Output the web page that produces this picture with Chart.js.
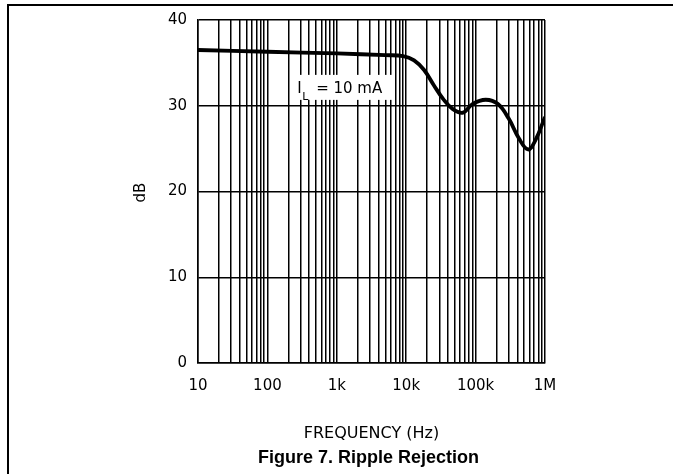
<!DOCTYPE html>
<html>
<head>
<meta charset="utf-8">
<script src="https://cdn.jsdelivr.net/npm/chart.js@4.4.0/dist/chart.umd.min.js"></script>
<style>
  html, body { margin: 0; padding: 0; background: #fff; }
  #wrap { position: relative; width: 676px; height: 474px; }
</style>
</head>
<body>
<div id="wrap"><canvas id="rippleChart"></canvas></div>
<script>
// Ripple rejection vs frequency
const freqHz = [10, 100, 1000, 5000, 9000, 13000, 18000, 25000, 34000, 47000, 66000, 90000, 140000, 210000, 300000, 420000, 569000, 720000, 1000000];
const rippleDb = [36.5, 36.3, 36.1, 35.9, 35.8, 35.3, 34.2, 32.4, 30.8, 29.6, 29.2, 30.2, 30.7, 30.2, 28.5, 26.2, 24.9, 25.9, 28.7];

const decadeTicks = [10, 100, 1000, 10000, 100000, 1000000];
const decadeLabels = ["10", "100", "1k", "10k", "100k", "1M"];
const dbTicks = [0, 10, 20, 30, 40];

const xTitle = "FREQUENCY (Hz)";
const yTitle = "dB";
const figTitle = "Figure 7. Ripple Rejection";
const curveNote = { main: "I", sub: "L", rest: "= 10 mA", freq: 235, db: 33.6 };

// 1..9 per decade for the log grid
const gridTicks = [];
decadeTicks.slice(0, -1).forEach(d => {
  for (let m = 1; m <= 9; m++) gridTicks.push(d * m);
});
gridTicks.push(decadeTicks[decadeTicks.length - 1]);

const FONT = "DejaVu Sans";

const figureText = {
  id: "figureText",
  beforeDatasetsDraw(chart) {
    const c = chart.ctx;
    const x0 = chart.scales.x.getPixelForValue(curveNote.freq);
    const y0 = chart.scales.y.getPixelForValue(curveNote.db);
    c.save();
    c.fillStyle = "#fff";
    c.fillRect(x0, y0, 100, 25);
    c.fillStyle = "#000";
    c.textBaseline = "alphabetic";
    c.font = "15px '" + FONT + "'";
    c.fillText(curveNote.main, x0 + 4, y0 + 18);
    c.font = "11px '" + FONT + "'";
    c.fillText(curveNote.sub, x0 + 9, y0 + 25);
    c.font = "15px '" + FONT + "'";
    c.fillText(curveNote.rest, x0 + 23, y0 + 18);
    c.restore();
  },
  afterDraw(chart) {
    const c = chart.ctx;
    const a = chart.chartArea;
    const mid = (a.left + a.right) / 2;
    c.save();
    c.fillStyle = "#000";
    c.textAlign = "center";
    c.textBaseline = "middle";
    c.font = "16px '" + FONT + "'";
    c.fillText(xTitle, mid, 434);
    c.font = "bold 18px 'Liberation Sans'";
    c.fillText(figTitle, mid - 3, 458);
    c.translate(141, (a.top + a.bottom) / 2 + 1);
    c.rotate(-Math.PI / 2);
    c.font = "15px '" + FONT + "'";
    c.fillText(yTitle, 0, 0);
    c.restore();

    // page frame
    c.save();
    c.strokeStyle = "#000";
    c.lineWidth = 2;
    c.beginPath();
    c.moveTo(8, 474);
    c.lineTo(8, 5);
    c.lineTo(673, 5);
    c.stroke();
    c.restore();
  }
};

const ctx = document.getElementById("rippleChart").getContext("2d");
const rippleChart = new Chart(ctx, {
  type: "line",
  data: {
    datasets: [
      {
        data: freqHz.map((f, i) => ({ x: f, y: rippleDb[i] })),
        borderColor: "#000",
        borderWidth: 3.8,
        pointRadius: 0,
        fill: false,
        tension: 0.4
      }
    ]
  },
  options: {
    responsive: true,
    maintainAspectRatio: false,
    animation: false,
    events: [],
    layout: { padding: { left: 0, top: 18, right: 131, bottom: 0 } },
    plugins: {
      legend: { display: false },
      tooltip: { enabled: false }
    },
    scales: {
      x: {
        type: "logarithmic",
        min: 10,
        max: 1000000,
        afterBuildTicks: scale => {
          scale.ticks = gridTicks.map(v => ({ value: v }));
        },
        afterFit: scale => { scale.height = 111; },
        grid: { color: "#000", lineWidth: 1.5, drawTicks: false },
        border: { color: "#000", width: 1.5 },
        ticks: {
          autoSkip: false,
          maxRotation: 0,
          padding: 14,
          color: "#000",
          font: { family: FONT, size: 15 },
          callback: v => {
            const i = decadeTicks.indexOf(v);
            return i >= 0 ? decadeLabels[i] : "";
          }
        }
      },
      y: {
        min: 0,
        max: 40,
        afterBuildTicks: scale => {
          scale.ticks = dbTicks.map(v => ({ value: v }));
        },
        afterFit: scale => { scale.width = 198; },
        grid: { color: "#000", lineWidth: 1.5, drawTicks: false },
        border: { color: "#000", width: 1.5 },
        ticks: {
          padding: 11,
          color: "#000",
          font: { family: FONT, size: 15 }
        }
      }
    }
  },
  plugins: [figureText]
});
</script>
</body>
</html>
